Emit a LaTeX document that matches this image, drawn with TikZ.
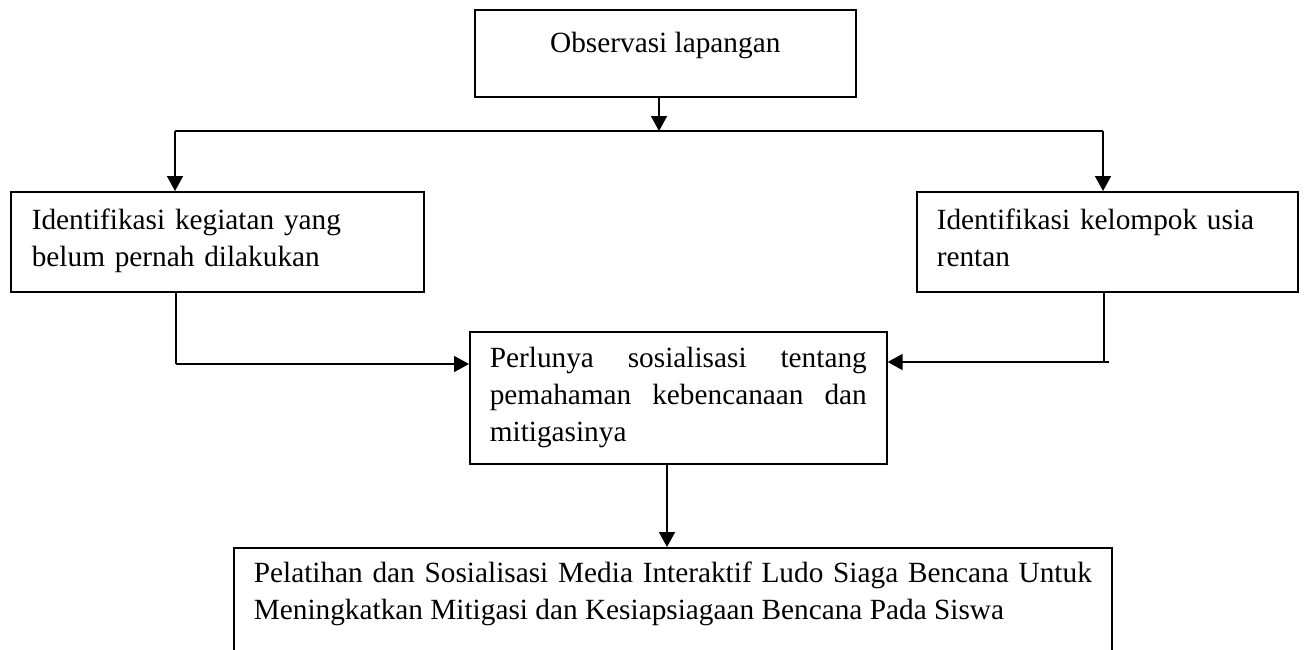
\documentclass[tikz,border=0pt]{standalone}
\usepackage{fontspec}
\setmainfont{Liberation Serif}
\usepackage{tikz}
\usetikzlibrary{arrows.meta}
\newcommand{\boxfont}{\fontsize{14.65}{18.5}\selectfont}
\hyphenpenalty=10000
\tolerance=9999

\tikzset{
  box/.style={draw, line width=0.8pt, anchor=north west, inner ysep=0pt,
              inner xsep=10pt, font=\boxfont}
}

\begin{document}
\begin{tikzpicture}[x=0.5pt,y=-0.5pt,line width=0.8pt,
    >={Triangle[length=7.5pt,width=8pt]}]
\useasboundingbox (0,0) rectangle (1304,649);

\node[box, minimum width=190.5pt, text height=21.5pt, text depth=22pt]
    (obs) at (474,9) {Observasi lapangan};
\node[box, inner xsep=10.5pt, text width=185.5pt, align=left,
      text height=19pt, text depth=31pt]
    (keg) at (10,191) {Identifikasi kegiatan yang\\belum pernah dilakukan};
\node[box, text width=170.5pt, align=left, text height=19pt, text depth=31pt]
    (usia) at (916,191) {Identifikasi kelompok usia\\rentan};
\node[box, text width=188.5pt, align=justify, text height=18pt, text depth=48pt]
    (sos) at (469,331) {Perlunya sosialisasi tentang pemahaman kebencanaan dan mitigasinya};
\node[box, text width=419pt, align=justify, text height=17.5pt, text depth=36.5pt]
    (ludo) at (233,547) {Pelatihan dan Sosialisasi Media Interaktif Ludo Siaga Bencana Untuk Meningkatkan Mitigasi dan Kesiapsiagaan Bencana Pada Siswa};

% split line below the first box
\coordinate (split) at (659,131);
\coordinate (lc)    at (175,131);
\coordinate (rc)    at (1103,131);
\draw[->] (obs.south -| split) -- (split);
\draw (lc) -- (rc);
\draw[->] (lc) -- (lc |- keg.north);
\draw[->] (rc) -- (rc |- usia.north);

% both branches into the middle box
\coordinate (lk) at (176,364);
\coordinate (rk) at (1104,362);
\draw (lk |- keg.south) -- (lk);
\draw[->] (lk) -- (lk -| sos.west);
\draw (rk |- usia.south) -- (rk);
\draw[->] ([xshift=2.5pt]rk) -- (rk -| sos.east);

% down to the last box
\coordinate (mk) at (667,500);
\draw[->] (sos.south -| mk) -- (mk |- ludo.north);
\end{tikzpicture}
\end{document}
